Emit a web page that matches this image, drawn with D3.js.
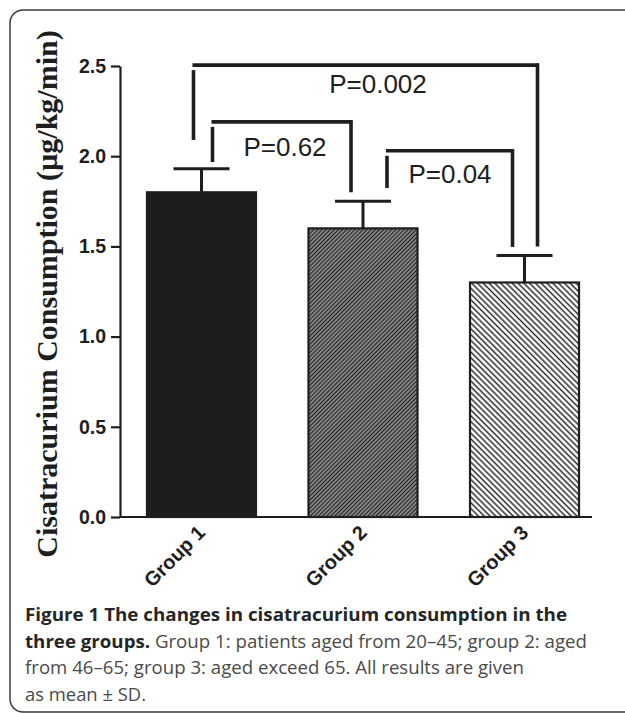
<!DOCTYPE html>
<html>
<head>
<meta charset="utf-8">
<script src="https://cdn.jsdelivr.net/npm/d3@7/dist/d3.min.js"></script>
<style>
    html, body { margin: 0; padding: 0; background: #fff; overflow: hidden; }
    svg { display: block; }
</style>
</head>
<body>
<script>
"use strict";

// chart data
var groups = ['Group 1', 'Group 2', 'Group 3'];
var means = [1.80, 1.60, 1.30];
var sds = [0.13, 0.15, 0.15];
var yTicks = [0.0, 0.5, 1.0, 1.5, 2.0, 2.5];

// significance brackets: from group, to group, bar level, end levels
var bracketLabels = ['P=0.002', 'P=0.62', 'P=0.04'];
var bracketFrom = ['Group 1', 'Group 1', 'Group 2'];
var bracketTo = ['Group 3', 'Group 2', 'Group 3'];
var bracketLevel = [2.505, 2.19, 2.03];
var bracketFromEnd = [2.09, 1.968, 1.824];
var bracketToEnd = [1.50, 1.80, 1.497];

var captionLines = [
    [{ t: 'Figure 1 The changes in cisatracurium consumption in the', b: true }],
    [{ t: 'three groups.', b: true }, { t: ' Group 1: patients aged from 20\u201345; group 2: aged', b: false }],
    [{ t: 'from 46\u201365; group 3: aged exceed 65. All results are given', b: false }],
    [{ t: 'as mean \u00b1 SD.', b: false }]
];
var captionWidths = [542, 562, 499, 121];

var width = 625, height = 713;

var svg = d3.select('body').append('svg')
    .attr('width', width)
    .attr('height', height);

var defs = svg.append('defs');

/**
 * Diagonal hatch pattern
 */
function hatch(id, period, lineWidth, angle, bg) {
    var p = defs.append('pattern')
        .attr('id', id)
        .attr('patternUnits', 'userSpaceOnUse')
        .attr('width', period)
        .attr('height', period)
        .attr('patternTransform', 'rotate(' + angle + ')');
    p.append('rect')
        .attr('width', period)
        .attr('height', period)
        .attr('fill', bg);
    p.append('line')
        .attr('x1', period / 2).attr('x2', period / 2)
        .attr('y1', 0).attr('y2', period)
        .attr('stroke', '#1e1e1e')
        .attr('stroke-width', lineWidth);
}

hatch('hatch2', 2.9, 1.4, 45, '#a0a0a0');
hatch('hatch3', 4.1, 1.4, -45, '#ffffff');

var fills = ['#1d1d1d', 'url(#hatch2)', 'url(#hatch3)'];

// frame, only the left corners show
svg.append('rect')
    .attr('x', 10)
    .attr('y', 10)
    .attr('width', 720)
    .attr('height', 702)
    .attr('rx', 13)
    .attr('fill', 'none')
    .attr('stroke', '#3a3a3a')
    .attr('stroke-width', 1.5);

var x = d3.scaleBand()
    .domain(groups)
    .range([120, 606])
    .paddingInner(0.325)
    .paddingOuter(0.167);

var y = d3.scaleLinear()
    .domain([0, 2.5])
    .range([517, 66]);

var ink = '#1e1e1e';

// y axis
var yAxis = d3.axisLeft(y)
    .tickValues(yTicks)
    .tickFormat(d3.format('.1f'))
    .tickSize(9)
    .tickSizeOuter(0)
    .tickPadding(5);

var gy = svg.append('g')
    .attr('transform', 'translate(120,0)')
    .call(yAxis);

gy.select('.domain').attr('stroke', ink).attr('stroke-width', 2.2);
gy.selectAll('.tick line').attr('stroke', ink).attr('stroke-width', 2.2);
gy.selectAll('.tick text')
    .attr('fill', ink)
    .style('font-family', '"Liberation Sans", Arial, sans-serif')
    .style('font-weight', 'bold')
    .style('font-size', '19.5px');

// bars
svg.append('g').selectAll('rect')
    .data(groups)
    .enter().append('rect')
    .attr('x', function(d) { return x(d); })
    .attr('y', function(d, i) { return y(means[i]); })
    .attr('width', x.bandwidth())
    .attr('height', function(d, i) { return y(0) - y(means[i]); })
    .attr('fill', function(d, i) { return fills[i]; })
    .attr('stroke', ink)
    .attr('stroke-width', 2.2);

// x axis line
svg.append('line')
    .attr('x1', 120).attr('x2', 592)
    .attr('y1', y(0)).attr('y2', y(0))
    .attr('stroke', ink)
    .attr('stroke-width', 2.2);

// error bars (upper only)
var eb = svg.append('g')
    .attr('stroke', ink)
    .attr('stroke-width', 3);

groups.forEach(function(g, i) {
    var cx = x(g) + x.bandwidth() / 2;
    eb.append('line')
        .attr('x1', cx).attr('x2', cx)
        .attr('y1', y(means[i])).attr('y2', y(means[i] + sds[i]));
    eb.append('line')
        .attr('x1', cx - 28).attr('x2', cx + 28)
        .attr('y1', y(means[i] + sds[i])).attr('y2', y(means[i] + sds[i]));
});

// group labels
svg.append('g').selectAll('text')
    .data(groups)
    .enter().append('text')
    .attr('transform', function(d) {
        return 'translate(' + (x(d) + x.bandwidth() / 2 + 5) + ',' + 534 + ') rotate(-45)';
    })
    .attr('text-anchor', 'end')
    .attr('fill', ink)
    .style('font-family', '"Liberation Sans", Arial, sans-serif')
    .style('font-weight', 'bold')
    .style('font-size', '20px')
    .text(function(d) { return d; });

// brackets
var bracketOffsets = [[-8, 13], [11, -12], [24, -12]];
var br = svg.append('g')
    .attr('stroke', ink)
    .attr('stroke-width', 3.6)
    .attr('fill', 'none');

bracketLabels.forEach(function(label, i) {
    var x1 = x(bracketFrom[i]) + x.bandwidth() / 2 + bracketOffsets[i][0];
    var x2 = x(bracketTo[i]) + x.bandwidth() / 2 + bracketOffsets[i][1];
    var top = y(bracketLevel[i]);

    br.append('line')
        .attr('x1', x1 - 1).attr('x2', x2 + 1.5)
        .attr('y1', top).attr('y2', top);
    br.append('line')
        .attr('x1', x1).attr('x2', x1)
        .attr('y1', top + 5).attr('y2', y(bracketFromEnd[i]));
    br.append('line')
        .attr('x1', x2).attr('x2', x2)
        .attr('y1', top - 1.5).attr('y2', y(bracketToEnd[i]));
});

var labelPos = [[378, 93], [285, 156], [450, 183]];
svg.append('g').selectAll('text')
    .data(bracketLabels)
    .enter().append('text')
    .attr('x', function(d, i) { return labelPos[i][0]; })
    .attr('y', function(d, i) { return labelPos[i][1]; })
    .attr('text-anchor', 'middle')
    .attr('fill', ink)
    .style('font-family', '"Liberation Sans", Arial, sans-serif')
    .style('font-size', '26px')
    .text(function(d) { return d; });

// y axis title
svg.append('text')
    .attr('transform', 'translate(57,294) rotate(-90)')
    .attr('text-anchor', 'middle')
    .attr('fill', ink)
    .style('font-family', '"Liberation Serif", "Times New Roman", serif')
    .style('font-weight', 'bold')
    .style('font-size', '30px')
    .text('Cisatracurium Consumption (\u00b5g/kg/min)');

// caption
var cap = svg.append('g')
    .style('font-family', '"Open Sans", "Noto Sans", sans-serif')
    .style('font-size', '17.5px');

captionLines.forEach(function(parts, i) {
    var t = cap.append('text')
        .attr('x', 25)
        .attr('y', 621 + i * 26.6)
        .attr('textLength', captionWidths[i])
        .attr('lengthAdjust', 'spacingAndGlyphs');
    parts.forEach(function(p) {
        t.append('tspan')
            .attr('fill', p.b ? '#262626' : '#4a4a4a')
            .style('font-weight', p.b ? 'bold' : 'normal')
            .text(p.t);
    });
});
</script>
</body>
</html>
